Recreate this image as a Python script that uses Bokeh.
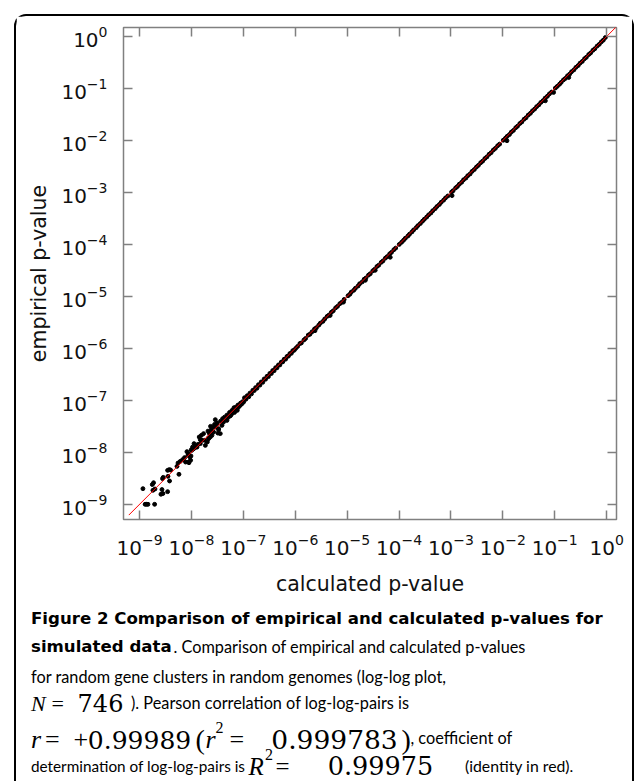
from bokeh.plotting import figure
from bokeh.layouts import column
from bokeh.models import LogAxis, LogTicker, Range1d, ColumnDataSource
from bokeh.core.properties import value
from bokeh.embed import file_html
from bokeh.resources import INLINE

# ---------------- data ----------------
low_calc = [1.16e-9, 1.28e-9, 1.36e-9, 1.45e-9, 1.95e-9, 1.76e-9, 1.86e-9, 1.81e-9, 1.98e-9, 2.58e-9,
            2.82e-9, 2.70e-9, 3.47e-9, 2.77e-9, 2.86e-9, 3.52e-9, 3.47e-9, 3.73e-9, 3.95e-9, 3.78e-9,
            5.26e-9, 5.74e-9, 7.69e-9, 9.77e-9, 8.95e-9, 8.81e-9]
low_emp = [2.0e-9, 1.0e-9, 1.0e-9, 1.0e-9, 1.0e-9, 2.4e-9, 2.6e-9, 1.86e-9, 1.97e-9, 1.56e-9,
           1.61e-9, 1.92e-9, 1.75e-9, 3.12e-9, 3.30e-9, 3.45e-9, 4.50e-9, 4.65e-9, 4.57e-9, 2.81e-9,
           5.37e-9, 3.78e-9, 6.50e-9, 8.51e-9, 6.32e-9, 9.42e-9]

mid_calc = [5.50e-9, 6.08e-9, 6.75e-9, 7.36e-9, 8.57e-9, 8.79e-9, 9.62e-9, 9.35e-9, 8.18e-9, 9.91e-9,
            1.05e-8, 1.12e-8, 1.22e-8, 1.33e-8, 1.41e-8, 1.55e-8, 1.48e-8, 1.71e-8, 1.79e-8, 2.02e-8,
            2.14e-8, 2.20e-8, 2.08e-8, 2.41e-8, 2.55e-8, 2.33e-8, 2.79e-8, 3.10e-8, 3.33e-8, 3.24e-8,
            2.88e-8, 3.64e-8, 3.98e-8, 4.35e-8, 4.83e-8, 5.42e-8, 6.03e-8, 6.59e-8, 7.19e-8, 7.87e-8,
            8.83e-8, 9.66e-8, 6.76e-8, 5.66e-8, 7.62e-8,
            1.85e-8, 2.48e-8, 2.67e-8, 3.59e-8, 3.87e-8, 4.15e-8, 5.19e-8, 6.47e-8, 8.09e-8, 8.71e-8,
            1.01e-8, 1.10e-8, 1.28e-8, 1.48e-8, 1.59e-8, 2.14e-8, 2.30e-8, 2.88e-8, 3.10e-8, 3.33e-8,
            4.83e-8, 5.60e-8, 6.03e-8, 6.98e-8, 7.53e-8, 9.40e-8, 1.01e-7]
mid_emp = [6.22e-9, 6.70e-9, 7.23e-9, 7.91e-9, 8.75e-9, 6.50e-9, 7.02e-9, 8.11e-9, 1.03e-8, 1.12e-8,
           1.26e-8, 1.47e-8, 1.26e-8, 1.42e-8, 1.97e-8, 2.12e-8, 1.75e-8, 2.29e-8, 1.70e-8, 1.58e-8,
           1.91e-8, 2.34e-8, 2.56e-8, 2.73e-8, 3.06e-8, 3.16e-8, 3.45e-8, 3.66e-8, 2.73e-8, 2.34e-8,
           4.25e-8, 3.99e-8, 4.44e-8, 4.76e-8, 5.20e-8, 5.86e-8, 6.41e-8, 7.21e-8, 7.41e-8, 8.11e-8,
           8.85e-8, 9.42e-8, 5.86e-8, 5.07e-8, 6.41e-8,
           1.36e-8, 2.12e-8, 2.45e-8, 2.29e-8, 3.30e-8, 3.82e-8, 4.76e-8, 5.96e-8, 7.41e-8, 8.00e-8,
           1.09e-8, 1.17e-8, 1.26e-8, 1.47e-8, 1.70e-8, 1.83e-8, 1.97e-8, 3.06e-8, 3.56e-8, 2.85e-8,
           4.11e-8, 5.13e-8, 5.53e-8, 6.41e-8, 6.90e-8, 8.61e-8, 9.27e-8]

dec7_calc = [1.05e-7, 1.12e-7, 1.19e-7, 1.27e-7, 1.34e-7, 1.43e-7, 1.52e-7, 1.62e-7, 1.72e-7, 1.83e-7,
             1.95e-7, 2.08e-7, 2.21e-7, 2.36e-7, 2.52e-7, 2.68e-7, 2.86e-7, 3.04e-7, 3.24e-7, 3.46e-7,
             3.68e-7, 3.92e-7, 4.18e-7, 4.45e-7, 4.74e-7, 5.05e-7, 5.38e-7, 5.74e-7, 6.11e-7, 6.51e-7,
             6.94e-7, 7.40e-7, 7.88e-7, 8.40e-7, 8.95e-7, 9.54e-7]
dec7_emp = [1.12e-7, 1.05e-7, 1.23e-7, 1.17e-7, 1.38e-7, 1.33e-7, 1.56e-7, 1.54e-7, 1.76e-7, 1.71e-7,
            2.00e-7, 1.96e-7, 2.26e-7, 2.22e-7, 2.58e-7, 2.55e-7, 2.90e-7, 2.86e-7, 3.30e-7, 3.28e-7,
            3.75e-7, 3.72e-7, 4.25e-7, 4.22e-7, 4.80e-7, 4.80e-7, 5.44e-7, 5.50e-7, 6.18e-7, 6.20e-7,
            7.00e-7, 7.10e-7, 7.95e-7, 8.02e-7, 9.02e-7, 9.20e-7]

dec6_calc = [1.02e-6, 1.11e-6, 1.23e-6, 1.31e-6, 1.47e-6, 1.58e-6, 1.78e-6, 1.92e-6, 2.10e-6, 2.35e-6,
             2.55e-6, 2.84e-6, 3.05e-6, 3.42e-6, 3.70e-6, 4.12e-6, 4.48e-6, 4.97e-6, 5.40e-6, 6.00e-6,
             6.52e-6, 7.24e-6, 7.88e-6, 8.75e-6]
dec6_emp = [1.00e-6, 1.09e-6, 1.24e-6, 1.27e-6, 1.45e-6, 1.55e-6, 1.80e-6, 1.87e-6, 2.08e-6, 2.36e-6,
            2.49e-6, 2.80e-6, 3.06e-6, 3.31e-6, 3.68e-6, 4.13e-6, 4.39e-6, 4.95e-6, 5.28e-6, 6.02e-6,
            6.43e-6, 7.25e-6, 7.70e-6, 8.73e-6]

dec5_calc = [1.04e-5, 1.13e-5, 1.20e-5, 1.34e-5, 1.44e-5, 1.62e-5, 1.74e-5, 1.95e-5, 2.13e-5, 2.30e-5,
             2.58e-5, 2.79e-5, 3.12e-5, 3.36e-5, 3.75e-5, 4.06e-5, 4.54e-5, 4.90e-5, 5.46e-5, 5.92e-5,
             6.60e-5, 7.15e-5, 7.95e-5, 8.62e-5]
dec5_emp = [1.03e-5, 1.10e-5, 1.21e-5, 1.31e-5, 1.43e-5, 1.58e-5, 1.75e-5, 1.90e-5, 2.14e-5, 2.26e-5,
            2.57e-5, 2.73e-5, 3.10e-5, 3.30e-5, 3.76e-5, 3.98e-5, 4.52e-5, 4.82e-5, 5.45e-5, 5.83e-5,
            6.58e-5, 7.03e-5, 7.92e-5, 8.50e-5]

dec4_calc = [1.01e-4, 1.12e-4, 1.22e-4, 1.32e-4, 1.48e-4, 1.59e-4, 1.77e-4, 1.91e-4, 2.14e-4, 2.31e-4,
             2.57e-4, 2.83e-4, 3.07e-4, 3.41e-4, 3.71e-4, 4.11e-4, 4.46e-4, 4.96e-4, 5.38e-4, 5.98e-4,
             6.49e-4, 7.22e-4, 7.85e-4, 8.72e-4]
dec4_emp = [1.00e-4, 1.10e-4, 1.20e-4, 1.31e-4, 1.45e-4, 1.57e-4, 1.74e-4, 1.90e-4, 2.10e-4, 2.30e-4,
            2.52e-4, 2.80e-4, 3.05e-4, 3.36e-4, 3.70e-4, 4.02e-4, 4.45e-4, 4.88e-4, 5.36e-4, 5.86e-4,
            6.47e-4, 7.10e-4, 7.83e-4, 8.55e-4]

dec3_calc = [1.03e-3, 1.10e-3, 1.23e-3, 1.33e-3, 1.45e-3, 1.61e-3, 1.75e-3, 1.94e-3, 2.11e-3, 2.34e-3,
             2.55e-3, 2.82e-3, 3.10e-3, 3.38e-3, 3.74e-3, 4.08e-3, 4.51e-3, 4.93e-3, 5.44e-3, 5.95e-3,
             6.57e-3, 7.18e-3, 7.93e-3, 8.66e-3]
dec3_emp = [1.02e-3, 1.08e-3, 1.22e-3, 1.30e-3, 1.44e-3, 1.57e-3, 1.75e-3, 1.89e-3, 2.10e-3, 2.27e-3,
            2.54e-3, 2.76e-3, 3.08e-3, 3.32e-3, 3.73e-3, 4.00e-3, 4.49e-3, 4.83e-3, 5.42e-3, 5.83e-3,
            6.55e-3, 7.05e-3, 7.90e-3, 8.50e-3]

dec2_calc = [1.02e-2, 1.12e-2, 1.21e-2, 1.34e-2, 1.46e-2, 1.60e-2, 1.77e-2, 1.92e-2, 2.13e-2, 2.32e-2,
             2.57e-2, 2.80e-2, 3.09e-2, 3.40e-2, 3.72e-2, 4.10e-2, 4.48e-2, 4.95e-2, 5.41e-2, 5.97e-2,
             6.53e-2, 7.21e-2, 7.89e-2, 8.70e-2]
dec2_emp = [1.01e-2, 1.10e-2, 1.20e-2, 1.30e-2, 1.45e-2, 1.56e-2, 1.76e-2, 1.88e-2, 2.12e-2, 2.27e-2,
            2.56e-2, 2.74e-2, 3.08e-2, 3.33e-2, 3.71e-2, 4.02e-2, 4.47e-2, 4.85e-2, 5.40e-2, 5.85e-2,
            6.52e-2, 7.07e-2, 7.87e-2, 8.53e-2]

dec1_calc = [0.103, 0.112, 0.124, 0.133, 0.147, 0.160, 0.176, 0.194, 0.211, 0.234,
             0.256, 0.283, 0.308, 0.340, 0.375, 0.407, 0.452, 0.491, 0.545, 0.592,
             0.656, 0.720, 0.790, 0.862, 0.945]
dec1_emp = [0.102, 0.110, 0.121, 0.131, 0.146, 0.156, 0.175, 0.189, 0.210, 0.228,
            0.255, 0.276, 0.307, 0.332, 0.374, 0.398, 0.450, 0.482, 0.543, 0.582,
            0.654, 0.706, 0.788, 0.850, 0.955]

out_calc = [2.40e-6, 4.70e-6, 8.50e-6, 2.24e-5, 3.47e-5, 6.76e-5, 1.05e-3, 1.20e-2, 6.60e-2, 9.50e-2, 0.186]
out_emp = [2.19e-6, 4.30e-6, 7.76e-6, 2.04e-5, 3.18e-5, 5.66e-5, 0.87e-3, 0.99e-2, 5.80e-2, 8.40e-2, 0.163]

identity = [6.2e-10, 2.0]          # red identity line endpoints

calculated = (low_calc + mid_calc + dec7_calc + dec6_calc + dec5_calc + dec4_calc + dec3_calc
              + dec2_calc + dec1_calc + out_calc)
empirical = (low_emp + mid_emp + dec7_emp + dec6_emp + dec5_emp + dec4_emp + dec3_emp
             + dec2_emp + dec1_emp + out_emp)

# ---------------- main figure ----------------
W, H = 616, 584
ML, MR, MT, MB = 107, 16, 11, 81
p = figure(width=W, height=H, x_axis_type="log", y_axis_type="log",
           x_range=Range1d(4.9e-10, 1.55), y_range=Range1d(5.1e-10, 1.49),
           output_backend="svg", toolbar_location=None,
           min_border_left=ML, min_border_right=MR, min_border_top=MT, min_border_bottom=MB)
p.frame_align = False
p.grid.visible = False
p.outline_line_color = "#808080"
p.outline_line_width = 1.5
p.background_fill_color = "white"
p.border_fill_color = "white"

src = ColumnDataSource(dict(calc=calculated, emp=empirical))
p.scatter("calc", "emp", source=src, size=3.9, marker="circle", fill_color="black", line_color="black")
p.line(identity, identity, line_color="red", line_width=1)

bottom = p.below[0]
left = p.left[0]
top = LogAxis()
right = LogAxis()
p.add_layout(top, "above")
p.add_layout(right, "right")

for ax in [bottom, left, top, right]:
    ax.ticker = LogTicker(num_minor_ticks=0)
    ax.axis_line_color = None
    ax.major_tick_in = 9
    ax.major_tick_out = 0
    ax.major_tick_line_color = "#808080"
    ax.major_tick_line_width = 1.5
    ax.minor_tick_line_color = None
    ax.major_label_text_font = "DejaVu Sans"
    ax.major_label_text_color = "#111111"
for ax in [top, right]:
    ax.major_label_text_font_size = "1px"
    ax.major_label_text_color = None
    ax.major_label_standoff = 0
for ax in [bottom, left]:
    ax.major_label_text_font_size = "20px"
    ax.axis_label_text_font = "DejaVu Sans"
    ax.axis_label_text_font_size = "20.5px"
    ax.axis_label_text_font_style = "normal"
    ax.axis_label_text_color = "#111111"
bottom.axis_label = "calculated p-value"
left.axis_label = "empirical p-value"
bottom.major_label_standoff = 14
left.major_label_standoff = 16
bottom.axis_label_standoff = 14
left.axis_label_standoff = 7

# ---------------- caption figure (coordinates = pixels inside the caption block) ----------------
CW, CH = 616, 181
cap = figure(width=CW, height=CH, x_range=Range1d(0, CW), y_range=Range1d(CH, 0),
             output_backend="svg", toolbar_location=None, min_border=0,
             x_axis_location=None, y_axis_location=None)
cap.frame_align = False
cap.grid.visible = False
cap.outline_line_color = None
cap.background_fill_color = "white"
cap.border_fill_color = "white"

SANS = "Lato"
BOLD = "DejaVu Sans"
SERIF = "DejaVu Serif"        # digits of the formulas
TIMES = "Liberation Serif"    # letters and signs of the formulas
SZ = "16.3px"


def ctext(s, x, y, font=SANS, size=SZ, style="normal", align="left"):
    cap.text(x=[x], y=[y], text=[s], text_font=value(font), text_font_size=value(size),
             text_font_style=style, text_color="black", text_baseline="alphabetic",
             text_align=align)


ctext("Figure 2 Comparison of empirical and calculated p-values for", 14.5, 17.5, font=BOLD,
      size="16.6px", style="bold")
ctext("simulated data", 14.5, 45.5, font=BOLD, size="16.6px", style="bold")
ctext(". Comparison of empirical and calculated p-values", 157, 45.5)
ctext("for random gene clusters in random genomes (log-log plot,", 14.5, 75.5)
# N = 746
ctext("N", 14.5, 102.5, font=TIMES, size="22px", style="italic")
ctext("=", 35, 102.5, font=TIMES, size="22px")
ctext("746", 84, 102.5, font=SERIF, size="24px", align="center")
ctext("). Pearson correlation of log-log-pairs is", 114.5, 102)
# r = +0.99989 (r2 = 0.999783)
ctext("r", 14.5, 139, font=TIMES, size="26px", style="italic")
ctext("=", 28.5, 139, font=TIMES, size="26px")
ctext("+", 57, 139, font=TIMES, size="26px")
ctext("0.99989", 123, 139, font=SERIF, size="25px", align="center")
ctext("(", 179, 139, font=TIMES, size="28px")
ctext("r", 189, 139, font=TIMES, size="26px", style="italic")
ctext("2", 199, 127, font=TIMES, size="16px")
ctext("=", 213, 139, font=TIMES, size="26px")
ctext("0.999783", 318, 139, font=SERIF, size="26.5px", align="center")
ctext(")", 385, 139, font=TIMES, size="28px")
ctext(", coefficient of", 394, 137)
# R2 = 0.99975
ctext("determination of log-log-pairs is", 14.5, 165, size="15.3px")
ctext("R", 232, 165.5, font=TIMES, size="25px", style="italic")
ctext("2", 248.5, 154, font=TIMES, size="16px")
ctext("=", 259, 165.5, font=TIMES, size="25px")
ctext("0.99975", 364, 165, font=SERIF, size="25.5px", align="center")
ctext("(identity in red).", 448.5, 165, size="15.8px")

layout = column(p, cap, margin=(14, 0, 0, 14),
                styles={"border-left": "2px solid black", "border-right": "2px solid black",
                        "border-top": "2px solid black", "border-radius": "12px 12px 0 0"})

open("out.html", "w").write(file_html(layout, INLINE))
